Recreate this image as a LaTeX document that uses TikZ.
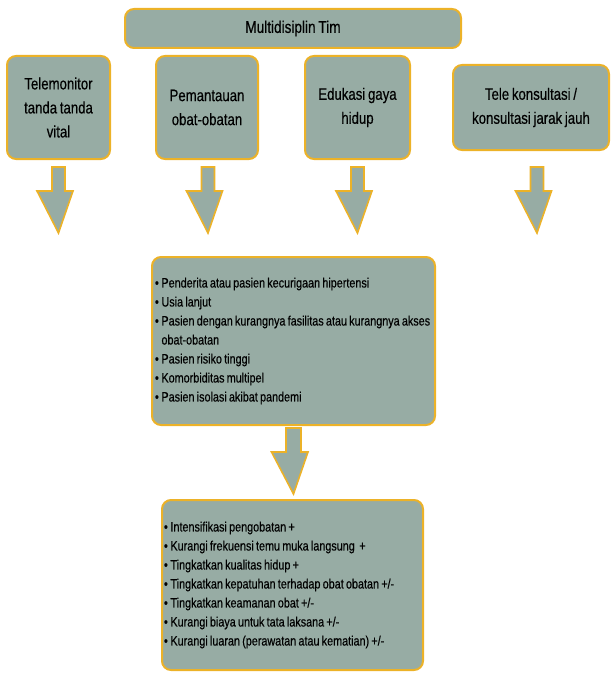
\documentclass[tikz,border=0pt]{standalone}
\usepackage{fontspec}
\setmainfont[FakeStretch=0.8, WordSpace=0.75, FakeBold=0.4]{Liberation Sans}
\usetikzlibrary{calc}
\definecolor{isi}{RGB}{151,172,164}
\definecolor{tepi}{RGB}{236,178,40}
\newcommand{\butir}{\makebox[6.5pt][l]{\textbullet}}
\tikzset{
  kotak/.style={draw=tepi, fill=isi, line width=2pt, rounded corners=9pt,
    align=center, inner sep=2pt, font=\fontsize{16.5}{24}\selectfont},
  daftar/.style={kotak, align=left, inner xsep=2pt, font=\fontsize{13.5}{19}\selectfont},
  panah/.style={draw=tepi, fill=isi, line width=1.6pt, line join=miter},
}
\begin{document}
\begin{tikzpicture}[x=1pt,y=-1pt]
  \useasboundingbox (0,0) rectangle (611,674);

  % kotak atas
  \node[kotak, minimum width=336pt, minimum height=39pt, font=\fontsize{17}{20}\selectfont] (tim) at (293,28.5) {Multidisiplin Tim};
  \node[kotak, minimum width=103pt, minimum height=103pt] (tele) at (58.5,107.5) {Telemonitor\\tanda tanda\\vital};
  \node[kotak, minimum width=102pt, minimum height=103pt] (obat) at (207,107.5) {Pemantauan\\obat-obatan};
  \node[kotak, minimum width=105pt, minimum height=103pt] (gaya) at (357.5,107.5) {Edukasi gaya\\hidup};
  \node[kotak, minimum width=156pt, minimum height=85pt] (konsul) at (531,107.5) {Tele konsultasi /\\konsultasi jarak jauh};

  % panah ke bawah
  \foreach \cx/\nama in {58.5/p1, 208/p2, 357.5/p3, 537/p4} {
    \coordinate (\nama) at (\cx,167);
    \draw[panah] ($(\nama)+(-6.5,0)$) -- ++(13,0) -- ++(0,24) -- ++(8,0)
      -- ($(\nama)+(0,66)$) -- ($(\nama)+(-21.5,24)$) -- ++(15,0) -- cycle;
  }

  % kotak tengah
  \node[daftar, minimum width=283pt, minimum height=168pt, text width=277pt, inner xsep=3pt] (pasien) at (293.5,341) {%
    \spaceskip=0pt\relax
    \butir Penderita atau pasien kecurigaan hipertensi\\
    \butir Usia lanjut\\
    \mbox{\butir Pasien dengan kurangnya fasilitas atau kurangnya akses}\\
    \hspace*{6.5pt}obat-obatan\\
    \butir Pasien risiko tinggi\\
    \butir Komorbiditas multipel\\
    \butir Pasien isolasi akibat pandemi};

  \coordinate (p5) at (pasien.south);
  \draw[panah] ($(p5)+(-7.5,2)$) -- ++(15,0) -- ++(0,24) -- ++(7,0)
    -- ($(p5)+(0,68)$) -- ($(p5)+(-22,26)$) -- ++(14.5,0) -- cycle;

  % kotak bawah
  \node[daftar, minimum width=261pt, minimum height=170pt, text width=257pt] (hasil) at (292.5,585) {%
    \spaceskip=0pt\relax
    \butir Intensifikasi pengobatan +\\
    \butir Kurangi frekuensi temu muka langsung\ \ +\\
    \butir Tingkatkan kualitas hidup +\\
    \butir Tingkatkan kepatuhan terhadap obat obatan +/-\\
    \butir Tingkatkan keamanan obat +/-\\
    \butir Kurangi biaya untuk tata laksana +/-\\
    \butir Kurangi luaran (perawatan atau kematian) +/-};
\end{tikzpicture}
\end{document}
